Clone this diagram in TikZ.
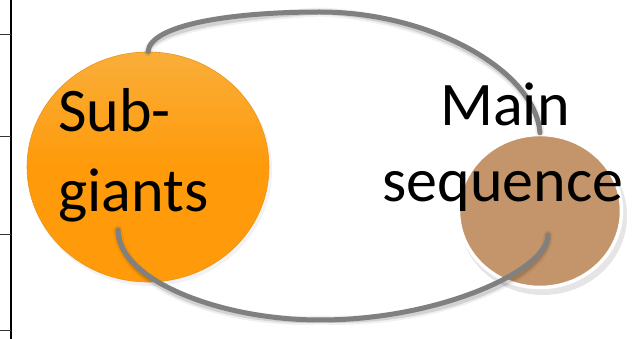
\documentclass[tikz,border=0pt]{standalone}
\usepackage{fontspec}
\setmainfont{Carlito}
\usetikzlibrary{shapes.geometric,calc}
\definecolor{conn}{HTML}{808080}
\definecolor{subor}{HTML}{FF9A0A}
\definecolor{subtop}{HTML}{F9AE3A}
\definecolor{tan}{HTML}{C4956A}
\tikzset{
  star/.style={ellipse, inner sep=0pt},
  lbl/.style={inner sep=0pt, font=\fontsize{62}{70}\selectfont, text=black},
  connector/.style={draw=conn, line width=5pt, line cap=round},
  connshadow/.style={draw=black, line width=9pt, opacity=0.06, line cap=round},
  connshadowb/.style={draw=black, line width=5pt, opacity=0.12, line cap=round},
  tick/.style={draw=black!80, line width=0.8pt}
}
\begin{document}
\begin{tikzpicture}[x=1pt,y=-1pt]
\useasboundingbox (0,0) rectangle (643,339);
\fill[white] (0,0) rectangle (643,339);
% left axis
\draw[line width=1.4pt] (11,0) -- (11,339);
\foreach \yy in {34,136,234,330} \draw[tick] (0,\yy) -- (11,\yy);
% shadows of circles
\fill[black, opacity=0.05] (150,170) ellipse [x radius=122, y radius=116];
\fill[black, opacity=0.10] (543,216) ellipse [x radius=84, y radius=79];
% circles
\node[star, minimum width=242pt, minimum height=230pt, top color=subtop, bottom color=subor, middle color=subor, draw=subor!70!brown, line width=0.6pt] (sub) at (148,167) {};
\node[star, minimum width=163pt, minimum height=153pt, fill=tan, draw=white, line width=3.5pt] (ms) at (540,211) {};
% connector anchors
\coordinate (t1) at (sub.north);
\coordinate (t2) at (ms.north);
\coordinate (b1) at ($(sub.center)+(-30,63)$);
\coordinate (b2) at ($(ms.center)+(8,24)$);
\coordinate (topmid) at (320,12);
\coordinate (botmid) at (320,320);
% shadows of connectors
\begin{scope}[shift={(2,5)}]
\draw[connshadow] (t1) .. controls (150,25) and (230,12) .. (topmid) .. controls (430,12) and (535,70) .. (t2);
\draw[connshadowb] (t1) .. controls (150,25) and (230,12) .. (topmid) .. controls (430,12) and (535,70) .. (t2);
\draw[connshadow] (b1) .. controls (118,280) and (220,320) .. (botmid) .. controls (440,320) and (548,270) .. (b2);
\draw[connshadowb] (b1) .. controls (118,280) and (220,320) .. (botmid) .. controls (440,320) and (548,270) .. (b2);
\end{scope}
% connectors
\draw[connector] (t1) .. controls (150,25) and (230,12) .. (topmid) .. controls (430,12) and (535,70) .. (t2);
\draw[connector] (b1) .. controls (118,280) and (220,320) .. (botmid) .. controls (440,320) and (548,270) .. (b2);
% labels
\node[lbl, anchor=base west] (subA) at (58,132) {Sub-};
\node[lbl, anchor=base west] (subB) at (58,212) {giants};
\node[lbl, anchor=base] (msA) at (505,126) {Main};
\node[lbl, anchor=base] (msB) at (503,202) {sequence};
\end{tikzpicture}
\end{document}
